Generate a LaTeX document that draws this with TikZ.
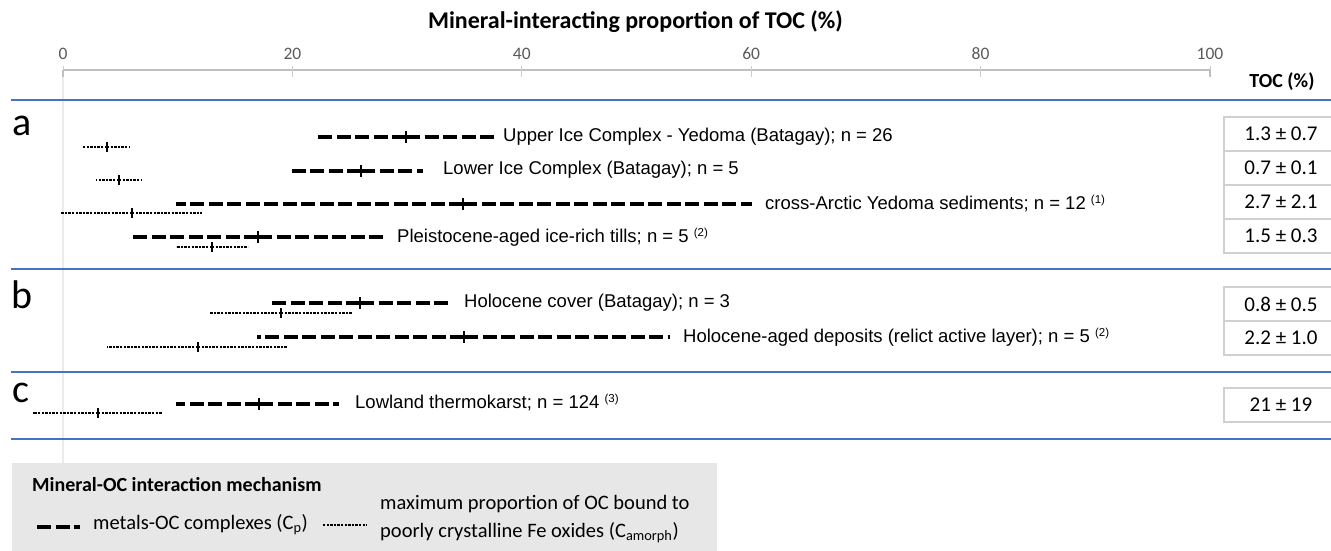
\documentclass[tikz,border=0pt]{standalone}
\usepackage{fontspec}
\setmainfont{Carlito}
\newfontfamily\arialf{Liberation Sans}
\definecolor{axisgray}{HTML}{BFBFBF}
\definecolor{ticklab}{HTML}{595959}
\definecolor{sepblue}{HTML}{4472C4}
\definecolor{boxgray}{HTML}{D0D0D0}
\definecolor{leggray}{HTML}{E7E7E7}
\definecolor{gridgray}{HTML}{EBEBEB}
\newcommand\errbar[6]{%
  \coordinate (#1L) at (#4,#3);
  \coordinate (#1M) at (#5,#3);
  \coordinate (#1R) at (#6,#3);
  \draw[#2] (#1M) -- (#1L);
  \draw[#2] (#1M) -- (#1R);
}
\newcommand\supnote[1]{ \raisebox{6pt}{\fontsize{11.5}{11.5}\selectfont (#1)}}
\tikzset{
  cpbar/.style={line width=3.3pt, dash pattern=on 14pt off 4.5pt, black},
  cabar/.style={line width=1.2pt, dash pattern=on 2.4pt off 1.2pt, black},
  cptick/.style={line width=2pt, black},
  catick/.style={line width=1.6pt, black},
  rowlab/.style={anchor=west, inner sep=0pt, font=\arialf\fontsize{18.5}{20}\selectfont},
  tocval/.style={draw=boxgray, line width=2pt, minimum width=114pt, minimum height=34pt, inner sep=0pt, font=\fontsize{21}{23}\selectfont},
  ticklabel/.style={text=ticklab, inner sep=0pt, font=\fontsize{17.5}{19}\selectfont},
  panel/.style={anchor=base west, inner sep=0pt, font=\fontsize{40}{40}\selectfont},
  sepline/.style={draw=sepblue, line width=1.4pt},
  legtext/.style={anchor=west, inner sep=0pt, font=\fontsize{20.5}{28}\selectfont, align=left}
}
\begin{document}
\begin{tikzpicture}[x=1pt,y=-1pt]
\useasboundingbox (0,0) rectangle (1331,551);
% grid line at zero
\draw[gridgray, line width=1.5pt] (63,70) -- (63,470);
% title
\node[inner sep=0pt, font=\bfseries\fontsize{24}{26}\selectfont] (title) at (635.5,22) {Mineral-interacting proportion of TOC (\%)};
% axis
\draw[axisgray, line width=2.5pt] (63,70) -- (1210,70);
\foreach \v in {0,20,...,100} {
  \node[ticklabel] (tl\v) at ({63+11.47*\v},54) {\v};
  \draw[axisgray!80, line width=1pt] ({63+11.47*\v},66) -- ({63+11.47*\v},77);
}
\draw[axisgray, line width=2pt] (63,70) -- (63,77);
\draw[axisgray, line width=2pt] (1210,70) -- (1210,77);
\node[inner sep=0pt, font=\bfseries\fontsize{20}{22}\selectfont] (tochead) at (1282,82) {TOC (\%)};
% separators
\draw[sepline] (11,100) -- (1331,100);
\draw[sepline] (11,269) -- (1331,269);
\draw[sepline] (11,372) -- (1331,372);
\draw[sepline] (11,439) -- (1331,439);
% panel letters
\node[panel] (pa) at (12,135) {a};
\node[panel] (pb) at (11,308) {b};
\node[panel] (pc) at (12,402) {c};
% bars: C_p (dashed) and C_amorph (dotted)
\errbar{a1p}{cpbar}{137}{314}{406}{497}
\errbar{a1a}{cabar}{147}{83}{107}{130}
\errbar{a2p}{cpbar}{171}{291}{361}{423}
\errbar{a2a}{cabar}{180}{96}{119}{141}
\errbar{a3p}{cpbar}{204}{176}{463}{752}
\errbar{a3a}{cabar}{213}{61}{132}{202}
\errbar{a4p}{cpbar}{237}{131}{258}{386}
\errbar{a4a}{cabar}{247}{176}{212}{248}
\errbar{b1p}{cpbar}{303}{268}{360}{451}
\errbar{b1a}{cabar}{313}{210}{281}{352}
\errbar{b2p}{cpbar}{337}{257}{464}{670}
\errbar{b2a}{cabar}{347}{107}{198}{287}
\errbar{c1p}{cpbar}{404}{176}{259}{339}
\errbar{c1a}{cabar}{413}{33}{98}{162}
\foreach \n in {a1p,a2p,a3p,a4p,b1p,b2p,c1p} {
  \draw[cptick] ([yshift=6pt]\n M) -- ([yshift=-6pt]\n M);
}
\foreach \n in {a1a,a2a,a3a,a4a,b1a,b2a,c1a} {
  \draw[catick] ([yshift=5pt]\n M) -- ([yshift=-5pt]\n M);
}
% row labels
\node[rowlab] (la1) at (503,137) {Upper Ice Complex - Yedoma (Batagay); n = 26};
\node[rowlab] (la2) at (443,170) {Lower Ice Complex (Batagay); n = 5};
\node[rowlab] (la3) at (765,204) {cross-Arctic Yedoma sediments; n = 12\supnote{1}};
\node[rowlab] (la4) at (397,237) {Pleistocene-aged ice-rich tills; n = 5\supnote{2}};
\node[rowlab] (lb1) at (464,303) {Holocene cover (Batagay); n = 3};
\node[rowlab] (lb2) at (683,337) {Holocene-aged deposits (relict active layer); n = 5\supnote{2}};
\node[rowlab] (lc1) at (355,403) {Lowland thermokarst; n = 124\supnote{3}};
% TOC boxes
\node[tocval] (ta1) at (1281,134) {1.3 ± 0.7};
\node[tocval] (ta2) at (1281,168) {0.7 ± 0.1};
\node[tocval] (ta3) at (1281,202) {2.7 ± 2.1};
\node[tocval] (ta4) at (1281,236) {1.5 ± 0.3};
\node[tocval] (tb1) at (1281,304) {0.8 ± 0.5};
\node[tocval] (tb2) at (1281,338) {2.2 ± 1.0};
\node[tocval] (tc1) at (1281,405) {21 ± 19};
% legend
\fill[leggray] (12,463) rectangle (717,551);
\node[anchor=west, inner sep=0pt, font=\bfseries\fontsize{20}{22}\selectfont] (legtitle) at (32,485) {Mineral-OC interaction mechanism};
\coordinate (lgpA) at (37,527);
\coordinate (lgpB) at (80,527);
\draw[cpbar] (lgpA) -- (lgpB);
\node[legtext] (lgp) at (93,525) {metals-OC complexes (C\textsubscript{p})};
\coordinate (lgaA) at (323,525);
\coordinate (lgaB) at (367,525);
\draw[cabar] (lgaA) -- (lgaB);
\node[legtext] (lga) at (380,519) {maximum proportion of OC bound to\\poorly crystalline Fe oxides (C\textsubscript{amorph})};
\end{tikzpicture}
\end{document}
